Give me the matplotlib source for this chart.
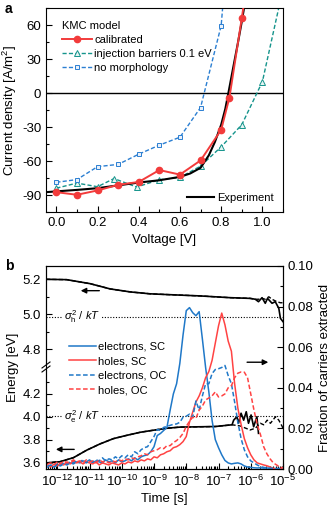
import numpy as np
import matplotlib
matplotlib.use("Agg")
import matplotlib.pyplot as plt
from matplotlib.ticker import (MultipleLocator, FixedLocator, FormatStrFormatter, LogLocator,
                               NullFormatter, LogFormatterSciNotation)
from matplotlib.lines import Line2D
from matplotlib.patches import Rectangle

plt.rcParams.update({
    "font.family": ["Liberation Sans", "DejaVu Sans"],
    "font.size": 9,
    "axes.unicode_minus": False,
    "mathtext.fontset": "custom",
    "mathtext.rm": "Liberation Sans",
    "mathtext.it": "Liberation Sans:italic",
    "mathtext.bf": "Liberation Sans:bold",
    "xtick.direction": "in",
    "ytick.direction": "in",
    "axes.linewidth": 0.8,
})

# ---------------- Panel a data ----------------
V_cal = [0.0, 0.1, 0.2, 0.3, 0.4, 0.5, 0.6, 0.7, 0.8, 0.84, 0.9, 1.0]
J_cal = [-87.5, -89.8, -86, -81, -78.5, -68, -72, -59.5, -32.5, -4, 66, 190]
V_inj = [0.0, 0.1, 0.2, 0.28, 0.39, 0.5, 0.6, 0.7, 0.8, 0.9, 1.0, 1.1]
J_inj = [-84, -79.5, -82.7, -75.5, -83, -76.5, -74.5, -64.5, -47.5, -28, 10, 92]
V_nomorph = [0.0, 0.1, 0.2, 0.3, 0.4, 0.5, 0.6, 0.7, 0.8, 0.9]
J_nomorph = [-78.8, -76.4, -65, -63, -54, -46, -39, -12.8, 59.5, 280]
V_exp = [-0.05, 0.0, 0.1, 0.2, 0.3, 0.4, 0.5, 0.6, 0.65, 0.7, 0.74, 0.77, 0.8, 0.82, 0.835, 0.86, 0.88, 0.9, 0.92]
J_exp = [-87.5, -86.8, -85.5, -84, -81.5, -79, -77, -74, -71, -66, -55, -43, -28, -14, 0, 24, 43, 63, 85]

# ---------------- Panel b data ----------------
log_t = np.round(np.arange(-12.3, -4.99, 0.1), 1)
frac_e_sc = [0.001, 0.0015, 0.001, 0.002, 0.0015, 0.0025, 0.002, 0.003, 0.0025, 0.0035,
             0.003, 0.004, 0.0035, 0.0045, 0.003, 0.004, 0.0035, 0.003, 0.0045, 0.0035,
             0.004, 0.003, 0.0045, 0.0035, 0.004, 0.005, 0.004, 0.0055, 0.0045, 0.006,
             0.0066, 0.007, 0.0085, 0.011, 0.0165, 0.0175, 0.019, 0.0205, 0.029, 0.037,
             0.042, 0.052, 0.066, 0.078, 0.0795, 0.077, 0.0755, 0.0775, 0.064, 0.05,
             0.038, 0.024, 0.0145, 0.0105, 0.007, 0.0042, 0.003, 0.0025, 0.0028, 0.003,
             0.0025, 0.0015, 0.001, 0.0008, 0.0006, 0.0005, 0.0006, 0.0004, 0.0005, 0.0003,
             0.0003, 0.0002, 0.0002, 0.0001]
frac_h_sc = [0.002, 0.001, 0.0025, 0.0015, 0.003, 0.002, 0.0035, 0.0025, 0.004, 0.003,
             0.0035, 0.0025, 0.0035, 0.003, 0.0025, 0.0035, 0.002, 0.003, 0.0025, 0.002,
             0.003, 0.0025, 0.002, 0.003, 0.0025, 0.0035, 0.003, 0.004, 0.0035, 0.0045,
             0.004, 0.005, 0.0045, 0.006, 0.0055, 0.007, 0.0075, 0.0085, 0.009, 0.0105,
             0.011, 0.012, 0.0135, 0.016, 0.023, 0.028, 0.033, 0.036, 0.040, 0.045,
             0.048, 0.0535, 0.062, 0.0705, 0.0768, 0.071, 0.063, 0.058, 0.042, 0.03,
             0.022, 0.015, 0.0105, 0.007, 0.0045, 0.003, 0.0025, 0.002, 0.0016, 0.001,
             0.0003, 0.0, 0.0, 0.0]
frac_e_oc = [0.0015, 0.002, 0.001, 0.0025, 0.002, 0.003, 0.0025, 0.0035, 0.003, 0.004,
             0.0035, 0.0045, 0.003, 0.004, 0.0035, 0.0045, 0.004, 0.0055, 0.004, 0.005,
             0.0045, 0.006, 0.005, 0.0065, 0.0055, 0.007, 0.006, 0.0085, 0.0075, 0.0095,
             0.0105, 0.011, 0.0135, 0.016, 0.0195, 0.019, 0.0205, 0.021, 0.0215, 0.022,
             0.0222, 0.023, 0.0255, 0.026, 0.027, 0.0255, 0.0335, 0.029, 0.036, 0.042,
             0.042, 0.047, 0.049, 0.0494, 0.050, 0.051, 0.046, 0.042, 0.033, 0.023,
             0.015, 0.0095, 0.006, 0.004, 0.003, 0.002, 0.0012, 0.0008, 0.0005, 0.0004,
             0.0003, 0.0002, 0.0002, 0.0001]
frac_h_oc = [0.0025, 0.003, 0.002, 0.0035, 0.0025, 0.004, 0.003, 0.0035, 0.0045, 0.0035,
             0.004, 0.003, 0.0045, 0.0035, 0.004, 0.003, 0.0045, 0.0035, 0.004, 0.003,
             0.004, 0.0035, 0.0045, 0.004, 0.005, 0.0045, 0.0055, 0.005, 0.006, 0.0065,
             0.0075, 0.007, 0.0085, 0.009, 0.0095, 0.0105, 0.01, 0.0115, 0.0115, 0.013,
             0.014, 0.0155, 0.0175, 0.021, 0.0235, 0.0255, 0.025, 0.029, 0.031, 0.034,
             0.035, 0.036, 0.038, 0.0355, 0.036, 0.037, 0.040, 0.041, 0.045, 0.0472,
             0.0478, 0.0477, 0.045, 0.037, 0.029, 0.022, 0.017, 0.011, 0.0075, 0.005,
             0.003, 0.002, 0.001, 0.0005]

# energy curves (log10 time, eV)
Eh_sc_logt = [-12.35, -11.71, -10.98, -10.36, -9.74, -9.12, -8.5, -7.57, -6.64, -6.02, -5.86,
              -5.76, -5.65, -5.55, -5.48, -5.34, -5.24, -5.13, -5.08, -5.0]
Eh_sc = [5.2, 5.198, 5.175, 5.145, 5.128, 5.117, 5.112, 5.105, 5.095, 5.091, 5.086,
         5.072, 5.095, 5.063, 5.091, 5.063, 5.072, 5.034, 4.977, 4.958]
Eh_oc_logt = [-12.35, -11.71, -10.98, -10.36, -9.74, -9.12, -8.5, -7.57, -6.64, -6.02, -5.86,
              -5.76, -5.65, -5.55, -5.44, -5.34, -5.19, -5.08, -5.0]
Eh_oc = [5.2, 5.198, 5.175, 5.145, 5.128, 5.117, 5.112, 5.105, 5.095, 5.091, 5.086,
         5.086, 5.091, 5.086, 5.1, 5.086, 5.072, 5.066, 5.066]
Ee_sc_logt = [-12.35, -11.92, -11.5, -11.09, -10.67, -10.26, -9.9, -9.43, -9.02, -8.6, -8.19,
              -7.72, -7.1, -6.58, -6.53, -6.43, -6.38, -6.3, -6.22, -6.14, -6.07, -5.99,
              -5.91, -5.81, -5.76]
Ee_sc = [3.6, 3.61, 3.645, 3.71, 3.765, 3.81, 3.835, 3.865, 3.883, 3.9, 3.91,
         3.912, 3.915, 3.93, 3.97, 4.0, 3.943, 4.03, 3.97, 4.043, 3.943, 4.015,
         3.913, 4.0, 3.856]
Ee_oc_logt = [-12.35, -11.92, -11.5, -11.09, -10.67, -10.26, -9.9, -9.43, -9.02, -8.6, -8.19,
              -7.72, -7.1, -6.58, -6.33, -6.02, -5.86, -5.7, -5.6, -5.49, -5.39, -5.23,
              -5.13, -5.02, -5.0]
Ee_oc = [3.6, 3.61, 3.645, 3.71, 3.765, 3.81, 3.835, 3.865, 3.883, 3.9, 3.91,
         3.912, 3.915, 3.93, 3.92, 3.885, 3.9, 3.943, 3.93, 3.97, 3.943, 4.0,
         3.97, 3.913, 3.885]
sigma_h_level = 4.985
sigma_e_level = 4.005
time_decades = [1e-12, 1e-11, 1e-10, 1e-9, 1e-8, 1e-7, 1e-6, 1e-5]

# ---------------- figure ----------------
W, H = 335, 513
fig = plt.figure(figsize=(W / 100, H / 100), dpi=100)


def rect(l, t, r, b):
    return [l / W, 1 - b / H, (r - l) / W, (b - t) / H]


red = "#f23b3b"
teal = "#15948c"
blue_a = "#2b7fd2"
blue = "#1f78c8"
red_b = "#ff4343"

# ===== Panel a =====
axa = fig.add_axes(rect(46, 8, 283, 212))
axa.axhline(0, color="black", lw=1.0, zorder=1)
axa.plot(V_exp, J_exp, color="black", lw=1.5, zorder=3)
l_cal, = axa.plot(V_cal, J_cal, color=red, lw=1.4, marker="o", ms=4.5, zorder=4)
l_inj, = axa.plot(V_inj, J_inj, color=teal, lw=1.0, ls=(0, (3, 1.6)), marker="^", ms=4,
                  mfc="#e6f4f2", mew=0.7, zorder=2)
l_nom, = axa.plot(V_nomorph, J_nomorph, color=blue_a, lw=1.0, ls=(0, (3, 1.6)), marker="s",
                  ms=3.5, mfc="#e8f0fa", mew=0.7, zorder=2)
axa.set_xlim(-0.05, 1.1)
axa.set_ylim(-105, 75)
axa.xaxis.set_major_locator(MultipleLocator(0.2))
axa.xaxis.set_minor_locator(MultipleLocator(0.1))
axa.xaxis.set_major_formatter(FormatStrFormatter("%.1f"))
axa.yaxis.set_major_locator(MultipleLocator(30))
axa.yaxis.set_minor_locator(MultipleLocator(15))
axa.tick_params(which="major", length=4, width=0.8, labelsize=9.5)
axa.tick_params(which="minor", length=2, width=0.8)
axa.set_xlabel("Voltage [V]", fontsize=9.5, labelpad=4)
axa.set_ylabel("Current density [A/m$^2$]", fontsize=9.5, labelpad=2)

leg1 = axa.legend([l_cal, l_inj, l_nom], ["calibrated", "injection barriers 0.1 eV", "no morphology"],
                  title="KMC model", loc="upper left", bbox_to_anchor=(0.035, 0.975), frameon=False,
                  fontsize=8, title_fontsize=8, handlelength=2.7, handletextpad=0.2,
                  labelspacing=0.35, borderaxespad=0.3, alignment="left")
axa.add_artist(leg1)
axa.legend([Line2D([], [], color="black", lw=1.5)], ["Experiment"], loc="lower right",
           frameon=False, fontsize=8, handlelength=2.4, handletextpad=0.3, borderaxespad=0.4)

fig.text(5 / W, 1 - 9 / H, "a", fontsize=10, fontweight="bold", va="center", ha="left")

# ===== Panel b =====
Ek = [3.0, 4.43, 4.699, 6.0]
vk = [6.1 - 0.6 * 115.5, 6.1 + 0.83 * 115.5, 154.7 - 0.301 * 175, 154.7 + 1.0 * 175]


def fwd(E):
    return np.interp(E, Ek, vk)


def inv(v):
    return np.interp(v, vk, Ek)


axb = fig.add_axes(rect(46, 266, 283, 469))
axb.set_xscale("log")
axb.set_yscale("function", functions=(fwd, inv))
axb.set_ylim(inv(0.0), inv(203.0))
xl = (10 ** -12.35, 10 ** -5.0)
axb.set_xlim(*xl)

tE = lambda lt: 10 ** np.asarray(lt)
axb.plot(tE(Eh_sc_logt), Eh_sc, color="black", lw=1.2, zorder=3)
axb.plot(tE(Eh_oc_logt), Eh_oc, color="black", lw=1.0, ls=(0, (3, 1.6)), zorder=3)
axb.plot(tE(Ee_sc_logt), Ee_sc, color="black", lw=1.2, zorder=3)
axb.plot(tE(Ee_oc_logt), Ee_oc, color="black", lw=1.0, ls=(0, (3, 1.6)), zorder=3)

axb.axhline(sigma_h_level, color="black", lw=0.8, ls=(0, (1, 1.5)), zorder=1)
axb.axhline(sigma_e_level, color="black", lw=0.8, ls=(0, (1, 1.5)), zorder=1)
axb.text(10 ** -11.8, sigma_h_level, r"$\sigma_{\rm h}^{2}$ / $kT$", fontsize=8, ha="left",
         va="center", bbox=dict(fc="white", ec="none", pad=0.6), zorder=2)
axb.text(10 ** -11.8, sigma_e_level, r"$\sigma_{\rm e}^{2}$ / $kT$", fontsize=8, ha="left",
         va="center", bbox=dict(fc="white", ec="none", pad=0.6), zorder=2)

axb.set_yticks([3.6, 3.8, 4.0, 4.2, 4.8, 5.0, 5.2])
axb.yaxis.set_major_formatter(FormatStrFormatter("%.1f"))
axb.yaxis.set_minor_locator(FixedLocator([3.7, 3.9, 4.1, 4.3, 4.9, 5.1]))
axb.tick_params(which="major", length=4, width=0.8, labelsize=9.5, right=False)
axb.tick_params(which="minor", length=2, width=0.8, right=False)
axb.set_xlabel("Time [s]", fontsize=9.5, labelpad=3)
axb.set_ylabel("Energy [eV]", fontsize=9.5, labelpad=3)

axb.annotate("", xy=(10 ** -11.36, 5.135), xytext=(10 ** -10.61, 5.135),
             arrowprops=dict(arrowstyle="-|>", color="black", lw=1.0, mutation_scale=8))
axb.annotate("", xy=(10 ** -12.13, 3.717), xytext=(10 ** -11.39, 3.717),
             arrowprops=dict(arrowstyle="-|>", color="black", lw=1.0, mutation_scale=8))

# axis break marks on left spine
yb = 102.0 / 203.0
dxp, dyp = 1 / 237.0, 1 / 203.0
axb.add_patch(Rectangle((-3 * dxp, yb - 3 * dyp), 6 * dxp, 6 * dyp, transform=axb.transAxes,
                        fc="white", ec="none", clip_on=False, zorder=10))
for off in (-2.0, 2.0):
    axb.plot([-4 * dxp, 4 * dxp], [yb + off * dyp - 3 * dyp, yb + off * dyp + 3 * dyp],
             transform=axb.transAxes, color="black", lw=0.8, clip_on=False, zorder=11)

ax2 = axb.twinx()
t = 10 ** log_t
ax2.plot(t, frac_e_sc, color=blue, lw=1.1, label="electrons, SC")
ax2.plot(t, frac_h_sc, color=red_b, lw=1.1, label="holes, SC")
ax2.plot(t, frac_e_oc, color=blue, lw=1.1, ls=(0, (3, 1.6)), label="electrons, OC")
ax2.plot(t, frac_h_oc, color=red_b, lw=1.1, ls=(0, (3, 1.6)), label="holes, OC")
ax2.set_ylim(0, 0.1)
ax2.yaxis.set_major_locator(MultipleLocator(0.02))
ax2.yaxis.set_minor_locator(MultipleLocator(0.01))
ax2.yaxis.set_major_formatter(FormatStrFormatter("%.2f"))
ax2.tick_params(which="major", length=4, width=0.8, labelsize=9.5)
ax2.tick_params(which="minor", length=2, width=0.8)
ax2.set_ylabel("Fraction of carriers extracted", fontsize=9.5, labelpad=4)
ax2.annotate("", xy=(10 ** -5.37, 0.0526), xytext=(10 ** -6.2, 0.0526),
             arrowprops=dict(arrowstyle="-|>", color="black", lw=1.0, mutation_scale=8))
ax2.legend(loc="upper left", bbox_to_anchor=(0.08, 0.648), frameon=False, fontsize=8,
           handlelength=2.4, handletextpad=0.2, labelspacing=0.4, borderaxespad=0.0)

# x ticks (after twinx so the shared axis keeps them)
axb.set_xlim(*xl)
axb.xaxis.set_major_locator(FixedLocator(time_decades))
axb.xaxis.set_major_formatter(LogFormatterSciNotation())
axb.xaxis.set_minor_locator(LogLocator(base=10, subs=np.arange(2, 10), numticks=30))
axb.xaxis.set_minor_formatter(NullFormatter())
axb.tick_params(axis="x", which="major", length=4, width=0.8, labelsize=9.5)
axb.tick_params(axis="x", which="minor", length=2, width=0.8)

fig.text(5 / W, 1 - 266 / H, "b", fontsize=10, fontweight="bold", va="center", ha="left")

fig.savefig("out.png", dpi=100)
